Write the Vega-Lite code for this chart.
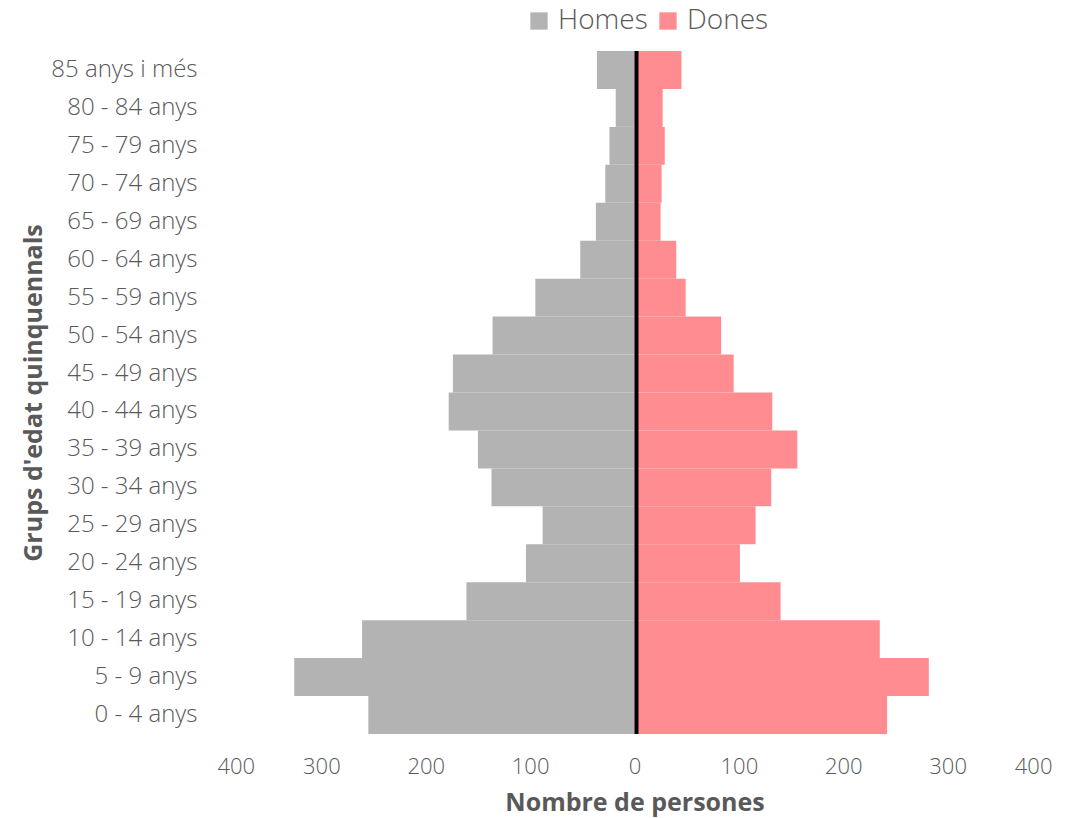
{
  "$schema": "https://vega.github.io/schema/vega-lite/v6.json",
  "autosize": "none",
  "width": 835,
  "height": 683,
  "padding": {"left": 217, "top": 51, "right": 19, "bottom": 84},
  "background": "white",
  "config": {
    "view": {"stroke": null},
    "font": "Open Sans",
    "axis": {"labelColor": "#595959", "titleColor": "#595959", "labelFont": "Open Sans", "titleFont": "Open Sans"}
  },
  "layer": [
    {
      "data": {
        "values": [
          {"edat": "0 - 4 anys", "sexe": "Homes", "persones": -255},
          {"edat": "5 - 9 anys", "sexe": "Homes", "persones": -326},
          {"edat": "10 - 14 anys", "sexe": "Homes", "persones": -261},
          {"edat": "15 - 19 anys", "sexe": "Homes", "persones": -161},
          {"edat": "20 - 24 anys", "sexe": "Homes", "persones": -104},
          {"edat": "25 - 29 anys", "sexe": "Homes", "persones": -88},
          {"edat": "30 - 34 anys", "sexe": "Homes", "persones": -137},
          {"edat": "35 - 39 anys", "sexe": "Homes", "persones": -150},
          {"edat": "40 - 44 anys", "sexe": "Homes", "persones": -178},
          {"edat": "45 - 49 anys", "sexe": "Homes", "persones": -174},
          {"edat": "50 - 54 anys", "sexe": "Homes", "persones": -136},
          {"edat": "55 - 59 anys", "sexe": "Homes", "persones": -95},
          {"edat": "60 - 64 anys", "sexe": "Homes", "persones": -52},
          {"edat": "65 - 69 anys", "sexe": "Homes", "persones": -37},
          {"edat": "70 - 74 anys", "sexe": "Homes", "persones": -28},
          {"edat": "75 - 79 anys", "sexe": "Homes", "persones": -24},
          {"edat": "80 - 84 anys", "sexe": "Homes", "persones": -18},
          {"edat": "85 anys i més", "sexe": "Homes", "persones": -36},
          {"edat": "0 - 4 anys", "sexe": "Dones", "persones": 242},
          {"edat": "5 - 9 anys", "sexe": "Dones", "persones": 282},
          {"edat": "10 - 14 anys", "sexe": "Dones", "persones": 235},
          {"edat": "15 - 19 anys", "sexe": "Dones", "persones": 140},
          {"edat": "20 - 24 anys", "sexe": "Dones", "persones": 101},
          {"edat": "25 - 29 anys", "sexe": "Dones", "persones": 116},
          {"edat": "30 - 34 anys", "sexe": "Dones", "persones": 131},
          {"edat": "35 - 39 anys", "sexe": "Dones", "persones": 156},
          {"edat": "40 - 44 anys", "sexe": "Dones", "persones": 132},
          {"edat": "45 - 49 anys", "sexe": "Dones", "persones": 95},
          {"edat": "50 - 54 anys", "sexe": "Dones", "persones": 83},
          {"edat": "55 - 59 anys", "sexe": "Dones", "persones": 49},
          {"edat": "60 - 64 anys", "sexe": "Dones", "persones": 40},
          {"edat": "65 - 69 anys", "sexe": "Dones", "persones": 25},
          {"edat": "70 - 74 anys", "sexe": "Dones", "persones": 26},
          {"edat": "75 - 79 anys", "sexe": "Dones", "persones": 29},
          {"edat": "80 - 84 anys", "sexe": "Dones", "persones": 27},
          {"edat": "85 anys i més", "sexe": "Dones", "persones": 45}
        ]
      },
      "mark": {"type": "bar"},
      "encoding": {
        "y": {
          "field": "edat",
          "type": "nominal",
          "sort": ["85 anys i més", "80 - 84 anys", "75 - 79 anys", "70 - 74 anys", "65 - 69 anys", "60 - 64 anys", "55 - 59 anys", "50 - 54 anys", "45 - 49 anys", "40 - 44 anys", "35 - 39 anys", "30 - 34 anys", "25 - 29 anys", "20 - 24 anys", "15 - 19 anys", "10 - 14 anys", "5 - 9 anys", "0 - 4 anys"],
          "scale": {"paddingInner": 0, "paddingOuter": 0},
          "axis": {
            "title": "Grups d'edat quinquennals",
            "titleFontSize": 25,
            "titleFontWeight": "bold",
            "titlePadding": 4,
            "labelFontSize": 24,
            "labelFontWeight": 300,
            "labelPadding": 20,
            "ticks": false,
            "domain": false
          }
        },
        "x": {
          "field": "persones",
          "type": "quantitative",
          "stack": null,
          "scale": {"domain": [-400, 400], "nice": false},
          "axis": {
            "title": "Nombre de persones",
            "titleFontSize": 25,
            "titleFontWeight": "bold",
            "titlePadding": 13,
            "values": [-400, -300, -200, -100, 0, 100, 200, 300, 400],
            "labelExpr": "format(abs(datum.value), 'd')",
            "labelFontSize": 22,
            "labelFontWeight": 300,
            "labelPadding": 22,
            "ticks": false,
            "domain": false,
            "grid": false
          }
        },
        "color": {
          "field": "sexe",
          "type": "nominal",
          "scale": {"domain": ["Homes", "Dones"], "range": ["#B3B3B3", "#FF8C91"]},
          "legend": {
            "title": null,
            "orient": "none",
            "direction": "horizontal",
            "legendX": 308,
            "legendY": -44,
            "symbolType": "square",
            "symbolSize": 300,
            "symbolStrokeWidth": 0,
            "labelFontSize": 28,
            "labelFontWeight": 300,
            "labelColor": "#595959",
            "labelFont": "Open Sans",
            "labelOffset": 5,
            "columnPadding": 6,
            "symbolOffset": 0
          }
        }
      }
    },
    {
      "data": {"values": [{"centre": 0}]},
      "mark": {"type": "rule", "color": "black", "strokeWidth": 4, "xOffset": 2},
      "encoding": {"x": {"field": "centre", "type": "quantitative"}}
    }
  ]
}
